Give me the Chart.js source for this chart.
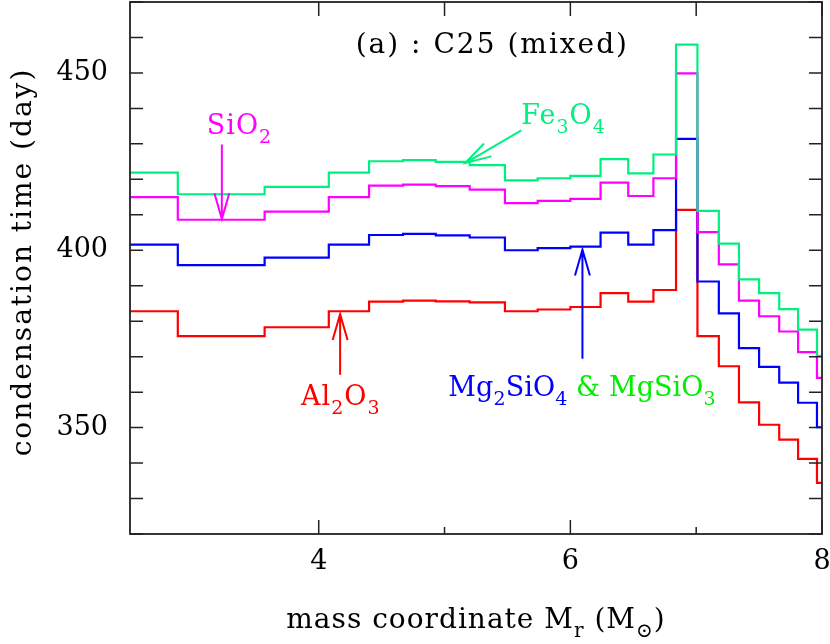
<!DOCTYPE html>
<html>
<head>
<meta charset="utf-8">
<script src="https://cdn.jsdelivr.net/npm/chart.js@4.4.1/dist/chart.umd.min.js"></script>
<style>
  html, body { margin: 0; padding: 0; background: #fff; }
  #wrap { width: 830px; height: 644px; }
</style>
</head>
<body>
<div id="wrap"><canvas id="c"></canvas></div>
<script>
// bin edges in mass coordinate (Msun), one more than values per series
const binEdges = [2.5, 2.88, 3.57, 4.08, 4.40, 4.67, 4.93, 5.20, 5.48, 5.74, 6.00,
  6.24, 6.46, 6.66, 6.84, 7.01, 7.18, 7.34, 7.50, 7.66, 7.81, 7.96, 8.0];

// condensation time (day) per bin
const fe3o4   = [421.9, 415.8, 417.9, 421.9, 425.1, 425.4, 424.9, 424.0, 419.7, 420.3, 421.0,
  425.7, 421.7, 427.0, 458.0, 411.1, 401.9, 391.8, 387.9, 383.4, 377.6, 370.2];
const sio2    = [415.0, 408.6, 410.9, 415.0, 418.2, 418.5, 418.1, 417.1, 413.3, 413.9, 414.5,
  419.1, 415.3, 420.3, 449.9, 405.1, 396.0, 385.8, 381.4, 377.1, 371.3, 364.0];
const mg2sio4 = [401.6, 395.8, 397.9, 401.6, 404.3, 404.6, 404.2, 403.6, 400.0, 400.6, 401.0,
  405.0, 401.6, 405.7, 431.4, 391.2, 382.2, 372.4, 367.1, 362.7, 357.0, 350.1];
const al2o3   = [382.8, 375.8, 378.3, 382.8, 385.5, 385.8, 385.6, 385.3, 382.8, 383.3, 384.0,
  387.9, 385.5, 388.8, 411.4, 375.8, 367.3, 357.1, 350.8, 346.6, 341.2, 334.4];

const xTickLabels = [4, 6, 8];
const yTickLabels = [350, 400, 450];

const FONT = "'DejaVu Serif', serif";

// each bin: horizontal at its value from left edge to right edge
function steps(vals) {
  const pts = vals.map((v, i) => ({ x: binEdges[i], y: v }));
  pts.push({ x: binEdges[binEdges.length - 1], y: vals[vals.length - 1] });
  return pts;
}

// labels and arrows, anchored in data coordinates
const notes = [
  { parts: [["(a) : C25 (mixed)", 0, "#000"]], at: [5.38, 455.6], center: true, sp: 2, size: 28 },
  { parts: [["SiO", 0, "#ff00ff"], ["2", 1, "#ff00ff"]], at: [3.11, 432.9],
    arrow: [[3.23, 429.8], [3.23, 408.8]], color: "#ff00ff" },
  { parts: [["Fe", 0, "#00f080"], ["3", 1, "#00f080"], ["O", 0, "#00f080"], ["4", 1, "#00f080"]],
    at: [5.61, 435.7], arrow: [[5.61, 433.8], [5.165, 424.6]], color: "#00f080" },
  { parts: [["Al", 0, "#ff0000"], ["2", 1, "#ff0000"], ["O", 0, "#ff0000"], ["3", 1, "#ff0000"]],
    at: [3.86, 356.4], arrow: [[4.17, 364.9], [4.17, 382.0]], color: "#ff0000" },
  { parts: [["Mg", 0, "#0000ff"], ["2", 1, "#0000ff"], ["SiO", 0, "#0000ff"], ["4", 1, "#0000ff"],
    [" & MgSiO", 0, "#00ee00"], ["3", 1, "#00ee00"]], sp: 0.1,
    at: [5.03, 358.8], arrow: [[6.096, 369.4], [6.096, 400.2]], color: "#0000ff" }
];

function setFont(ctx, sub, size, sp) {
  ctx.font = (sub ? Math.round(size * 0.72) : size) + "px " + FONT;
  ctx.letterSpacing = sp + "px";
}

function richWidth(ctx, parts, size, sp) {
  let w = 0;
  parts.forEach(p => {
    setFont(ctx, p[1], size, sp);
    w += ctx.measureText(p[0]).width;
  });
  return w;
}

function drawRich(ctx, x, y, parts, size, sp) {
  ctx.textAlign = "left";
  ctx.textBaseline = "alphabetic";
  parts.forEach(p => {
    setFont(ctx, p[1], size, sp);
    ctx.fillStyle = p[2];
    ctx.fillText(p[0], x, y + (p[1] ? 9 : 0));
    x += ctx.measureText(p[0]).width;
  });
}

function drawArrow(ctx, x0, y0, x1, y1, color) {
  const a = Math.atan2(y1 - y0, x1 - x0);
  const L = 27, W = 0.28;
  ctx.strokeStyle = color;
  ctx.lineWidth = 2;
  ctx.beginPath();
  ctx.moveTo(x0, y0);
  ctx.lineTo(x1, y1);
  ctx.moveTo(x1 - L * Math.cos(a - W), y1 - L * Math.sin(a - W));
  ctx.lineTo(x1, y1);
  ctx.lineTo(x1 - L * Math.cos(a + W), y1 - L * Math.sin(a + W));
  ctx.stroke();
}

const decor = {
  id: "decor",
  afterDatasetsDraw(chart) {
    const { ctx, chartArea: ca, scales: { x, y } } = chart;
    ctx.save();
    notes.forEach(n => {
      const sp = n.sp ?? 1;
      const size = n.size || 27;
      const px = x.getPixelForValue(n.at[0]);
      const py = y.getPixelForValue(n.at[1]);
      const left = n.center ? px - richWidth(ctx, n.parts, size, sp) / 2 : px;
      drawRich(ctx, left, py, n.parts, size, sp);
      if (n.arrow) {
        drawArrow(ctx,
          x.getPixelForValue(n.arrow[0][0]), y.getPixelForValue(n.arrow[0][1]),
          x.getPixelForValue(n.arrow[1][0]), y.getPixelForValue(n.arrow[1][1]), n.color);
      }
    });

    // frame and inward ticks
    ctx.strokeStyle = "#222";
    ctx.lineWidth = 1.8;
    ctx.strokeRect(ca.left, ca.top, ca.right - ca.left, ca.bottom - ca.top);
    ctx.lineWidth = 1.5;
    ctx.beginPath();
    x.ticks.forEach(t => {
      if (!Number.isInteger(t.value)) return;
      const px = x.getPixelForValue(t.value);
      const len = xTickLabels.includes(t.value) ? 14 : 7;
      ctx.moveTo(px, ca.bottom); ctx.lineTo(px, ca.bottom - len);
      ctx.moveTo(px, ca.top); ctx.lineTo(px, ca.top + 14);
    });
    y.ticks.forEach(t => {
      const py = y.getPixelForValue(t.value);
      ctx.moveTo(ca.left, py); ctx.lineTo(ca.left + 13, py);
      ctx.moveTo(ca.right, py); ctx.lineTo(ca.right - 13, py);
    });
    ctx.stroke();

    // axis titles
    const xt = [["mass coordinate M", 0, "#000"], ["r", 1, "#000"], [" (M", 0, "#000"],
      ["\u2299", 1, "#000"], [")", 0, "#000"]];
    const cx = (ca.left + ca.right) / 2;
    drawRich(ctx, cx - richWidth(ctx, xt, 28, 1) / 2, 628, xt, 28, 1);

    ctx.translate(31, 262);
    ctx.rotate(-Math.PI / 2);
    ctx.font = "28px " + FONT;
    ctx.letterSpacing = "2px";
    ctx.fillStyle = "#000";
    ctx.textAlign = "center";
    ctx.textBaseline = "alphabetic";
    ctx.fillText("condensation time (day)", 0, 0);
    ctx.restore();
  }
};

const lineStyle = { borderWidth: 2.2, pointRadius: 0, stepped: "before", fill: false,
  tension: 0, clip: 0 };

new Chart(document.getElementById("c"), {
  type: "line",
  data: {
    datasets: [
      { label: "Fe3O4", data: steps(fe3o4), borderColor: "#00f080", ...lineStyle },
      { label: "SiO2", data: steps(sio2), borderColor: "#ff00ff", ...lineStyle },
      { label: "Mg2SiO4", data: steps(mg2sio4), borderColor: "#0000ff", ...lineStyle },
      { label: "Al2O3", data: steps(al2o3), borderColor: "#ff0000", ...lineStyle }
    ]
  },
  options: {
    responsive: true,
    maintainAspectRatio: false,
    animation: false,
    layout: { padding: { left: 0, right: 8, top: 2, bottom: 0 } },
    scales: {
      x: {
        type: "linear",
        min: 2.5,
        max: 8,
        grid: { display: false, drawTicks: false },
        border: { display: false },
        ticks: {
          stepSize: 1,
          autoSkip: false,
          maxRotation: 0,
          padding: 12,
          color: "#000",
          font: { family: FONT, size: 27 },
          callback: v => xTickLabels.includes(v) ? String(v) : ""
        },
        afterFit: s => { s.height = 110; s.paddingLeft = 0; s.paddingRight = 0; }
      },
      y: {
        min: 320,
        max: 470,
        grid: { display: false, drawTicks: false },
        border: { display: false },
        ticks: {
          stepSize: 10,
          autoSkip: false,
          maxTicksLimit: 30,
          padding: 22,
          color: "#000",
          font: { family: FONT, size: 27 },
          callback: v => yTickLabels.includes(v) ? String(v) : ""
        },
        afterFit: s => { s.width = 130; s.paddingTop = 0; s.paddingBottom = 0; }
      }
    },
    plugins: {
      legend: { display: false },
      tooltip: { enabled: false }
    }
  },
  plugins: [decor]
});
</script>
</body>
</html>
